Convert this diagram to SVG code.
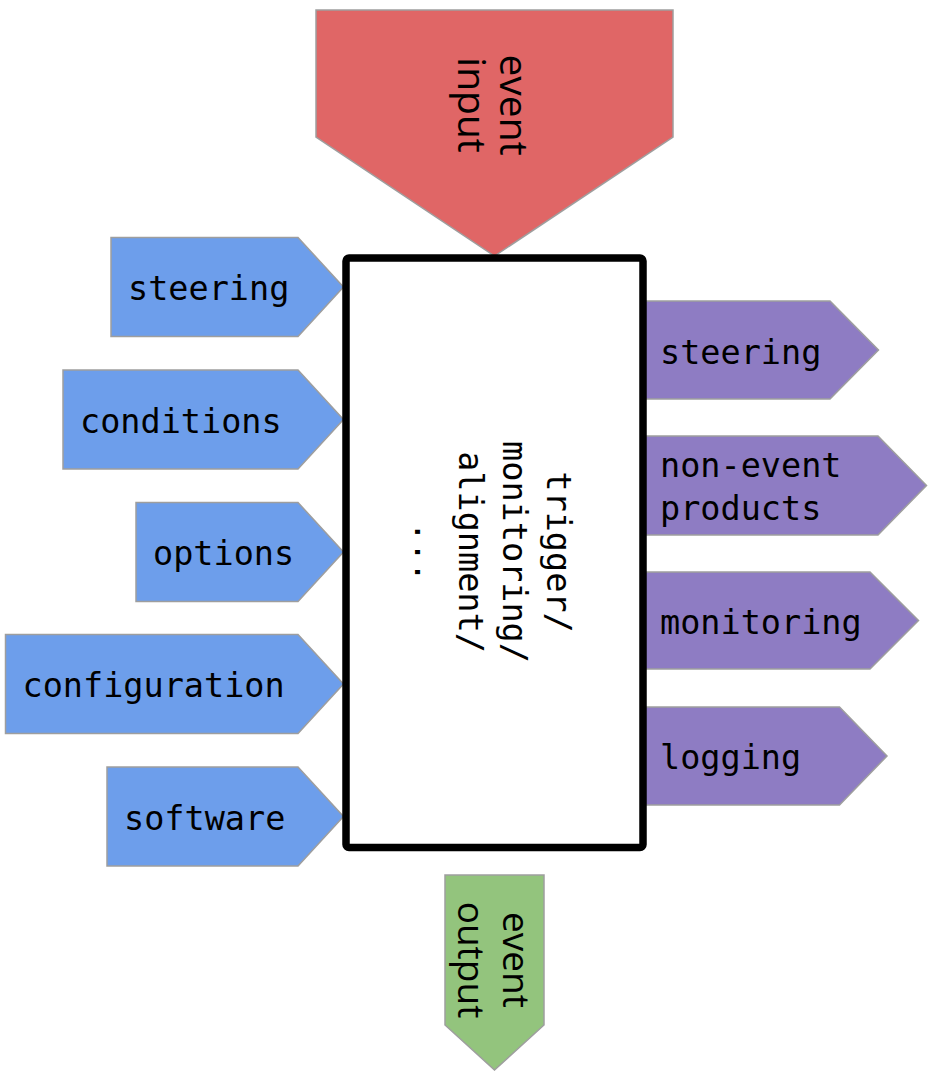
<svg xmlns="http://www.w3.org/2000/svg" width="932" height="1080" viewBox="0 0 932 1080">
  <style>
    .shape { stroke: #9e9e9e; stroke-width: 1.5; stroke-linejoin: miter; }
    .in { fill: #6d9eeb; }
    .out { fill: #8e7cc3; }
    .evin { fill: #e06666; }
    .evout { fill: #93c47d; }
    .mono { font-family: "DejaVu Sans Mono", "Liberation Mono", monospace; font-size: 33.5px; fill: #000; }
    .sans { font-family: "Open Sans", "Noto Sans", "Liberation Sans", sans-serif; font-size: 39px; fill: #000; text-anchor: middle; }
    .box { fill: #fff; stroke: #000; stroke-width: 7.5; }
  </style>

  <rect width="932" height="1080" fill="#fff"/>

  <!-- event input (top) -->
  <g id="event-input">
    <polygon class="shape evin" points="316,10 673,10 673,137 494.5,256 316,137"/>
    <g transform="translate(500,105) rotate(90)">
      <text class="sans" x="0" y="0">event</text>
      <text class="sans" x="0" y="42">input</text>
    </g>
  </g>

  <!-- inputs (left) -->
  <g id="in-steering">
    <polygon class="shape in" points="111,237.5 298,237.5 343.5,287 298,336.5 111,336.5"/>
    <text class="mono" x="128" y="300">steering</text>
  </g>
  <g id="in-conditions">
    <polygon class="shape in" points="63,370 298,370 343.5,419.5 298,469 63,469"/>
    <text class="mono" x="80" y="432.5">conditions</text>
  </g>
  <g id="in-options">
    <polygon class="shape in" points="136,502.5 298,502.5 343.5,552 298,601.5 136,601.5"/>
    <text class="mono" x="153" y="565">options</text>
  </g>
  <g id="in-configuration">
    <polygon class="shape in" points="5.5,634.5 298,634.5 343.5,684 298,733.5 5.5,733.5"/>
    <text class="mono" x="22.5" y="697">configuration</text>
  </g>
  <g id="in-software">
    <polygon class="shape in" points="107,767 298,767 343.5,816.5 298,866 107,866"/>
    <text class="mono" x="124" y="829.5">software</text>
  </g>

  <!-- outputs (right) -->
  <g id="out-steering">
    <polygon class="shape out" points="640,301 830,301 878.5,350 830,399 640,399"/>
    <text class="mono" x="660" y="364">steering</text>
  </g>
  <g id="out-non-event-products">
    <polygon class="shape out" points="640,436 878,436 926.5,485.5 878,535 640,535"/>
    <text class="mono" x="660" y="477">non-event</text>
    <text class="mono" x="660" y="520">products</text>
  </g>
  <g id="out-monitoring">
    <polygon class="shape out" points="640,572 870,572 918.5,620.5 870,669 640,669"/>
    <text class="mono" x="660" y="634">monitoring</text>
  </g>
  <g id="out-logging">
    <polygon class="shape out" points="640,707 839.5,707 887,756 839.5,805 640,805"/>
    <text class="mono" x="660" y="769">logging</text>
  </g>

  <!-- event output (bottom) -->
  <g id="event-output">
    <polygon class="shape evout" points="445,875 544,875 544,1025 494.5,1070 445,1025"/>
    <g transform="translate(503,960) rotate(90)">
      <text class="sans" x="0" y="0" style="font-size:37px">event</text>
      <text class="sans" x="0" y="45" style="font-size:37px">output</text>
    </g>
  </g>

  <!-- central processing block -->
  <g id="processing">
    <rect class="box" x="346" y="258" width="297" height="589.5" rx="3" ry="3"/>
    <g transform="translate(547,552) rotate(90)" text-anchor="middle">
      <text class="mono" x="0" y="0">trigger/</text>
      <text class="mono" x="0" y="44">monitoring/</text>
      <text class="mono" x="0" y="88">alignment/</text>
      <text class="mono" x="0" y="132">...</text>
    </g>
  </g>
</svg>
